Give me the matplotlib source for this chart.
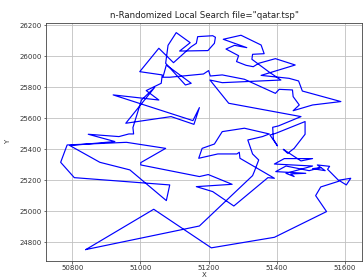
import matplotlib
matplotlib.use("Agg")
import matplotlib.pyplot as plt

tour_x = [50840, 51039, 51208, 51393, 51546, 51514, 51529, 51585, 51604, 51617,
          51581, 51549, 51555, 51519, 51542, 51505, 51529, 51495, 51427, 51397,
          51485, 51441, 51451, 51427, 51505, 51393, 51422, 51505, 51471, 51419,
          51432, 51451, 51483, 51483, 51397, 51380, 51402, 51390, 51388, 51405,
          51471, 51259, 51204, 51240, 51412, 51376, 51327, 51329, 51363, 51354,
          51295, 51243, 51312, 51276, 51251, 51288, 51282, 51310, 51331, 51347,
          51396, 51454, 51354, 51436, 51464, 51475, 51588, 51505, 51448, 51466,
          51448, 51446, 51407, 51396, 51305, 51240, 51205, 51200, 51185, 51086,
          51066, 51076, 51149, 51132, 51074, 51081, 51105, 51146, 51115, 51198,
          51217, 51220, 51212, 51168, 51164, 51149, 51097, 51054, 50998, 51064,
          51061, 51017, 51054, 50920, 51154, 51173, 51157, 51090, 50957, 51042,
          51003, 50978, 50980, 50966, 50937, 50847, 50925, 50793, 50881, 50969,
          51076, 51086, 50806, 50766, 50785, 50959, 51074, 51001, 51001, 51173,
          51199, 51269, 51164, 51212, 51274, 51374, 51393, 51292, 51290, 51283,
          51227, 51171, 51181, 51217, 51240, 51305, 51378, 51358, 51315, 51329,
          51347, 51334, 51329, 51173]
tour_y = [24753, 25013, 24764, 24832, 24998, 25101, 25157, 25196, 25170, 25213,
          25200, 25271, 25290, 25299, 25262, 25275, 25282, 25262, 25292, 25256,
          25245, 25241, 25224, 25245, 25292, 25305, 25340, 25340, 25325, 25400,
          25374, 25406, 25497, 25579, 25503, 25492, 25422, 25465, 25542, 25551,
          25611, 25697, 25847, 25830, 25847, 25901, 25981, 26013, 26017, 26073,
          26136, 26110, 26056, 26071, 26047, 26004, 25966, 25942, 25933, 25955,
          25985, 25944, 25877, 25858, 25841, 25776, 25708, 25686, 25649, 25686,
          25740, 25783, 25787, 25761, 25852, 25880, 25873, 25908, 25886, 25865,
          25865, 25944, 25826, 25815, 25955, 26071, 26153, 26088, 26034, 26037,
          26084, 26123, 26133, 26127, 26084, 26062, 25959, 26052, 25901, 25880,
          25826, 25779, 25718, 25751, 25585, 25669, 25561, 25611, 25568, 25800,
          25718, 25540, 25499, 25499, 25482, 25497, 25450, 25424, 25316, 25267,
          25069, 25170, 25217, 25316, 25428, 25445, 25406, 25314, 25299, 25224,
          25237, 25174, 25159, 25127, 25034, 25217, 25213, 25342, 25381, 25370,
          25370, 25342, 25406, 25434, 25514, 25536, 25499, 25482, 25460, 25370,
          25331, 25256, 25230, 24905]

x_ticks = [50800, 51000, 51200, 51400, 51600]
y_ticks = [24800, 25000, 25200, 25400, 25600, 25800, 26000, 26200]
title = 'n-Randomized Local Search file="qatar.tsp"'

fig = plt.figure(figsize=(3.63, 2.79), dpi=100)
ax = fig.add_axes([46/363, 18.3/279, 316/363, 238/279])

xs = tour_x + [tour_x[0]]
ys = tour_y + [tour_y[0]]
ax.plot(xs, ys, color="blue", linewidth=0.85)

ax.set_xlim(50723, 51650)
ax.set_ylim(24681, 26217)
ax.set_xticks(x_ticks)
ax.set_yticks(y_ticks)
ax.tick_params(labelsize=5, length=1.8, width=0.5, pad=1.5, colors="#333333")
ax.grid(True, color="#c0c0c0", linewidth=0.6)
for s in ax.spines.values():
    s.set_linewidth(0.6)
    s.set_color("#444444")
ax.set_title(title, fontsize=6.2, pad=3.5, color="#222222")
ax.set_xlabel("X", fontsize=5, labelpad=0.5, color="#333333")
ax.set_ylabel("Y", fontsize=5, labelpad=6, color="#333333")

fig.savefig("out.png", dpi=100)
